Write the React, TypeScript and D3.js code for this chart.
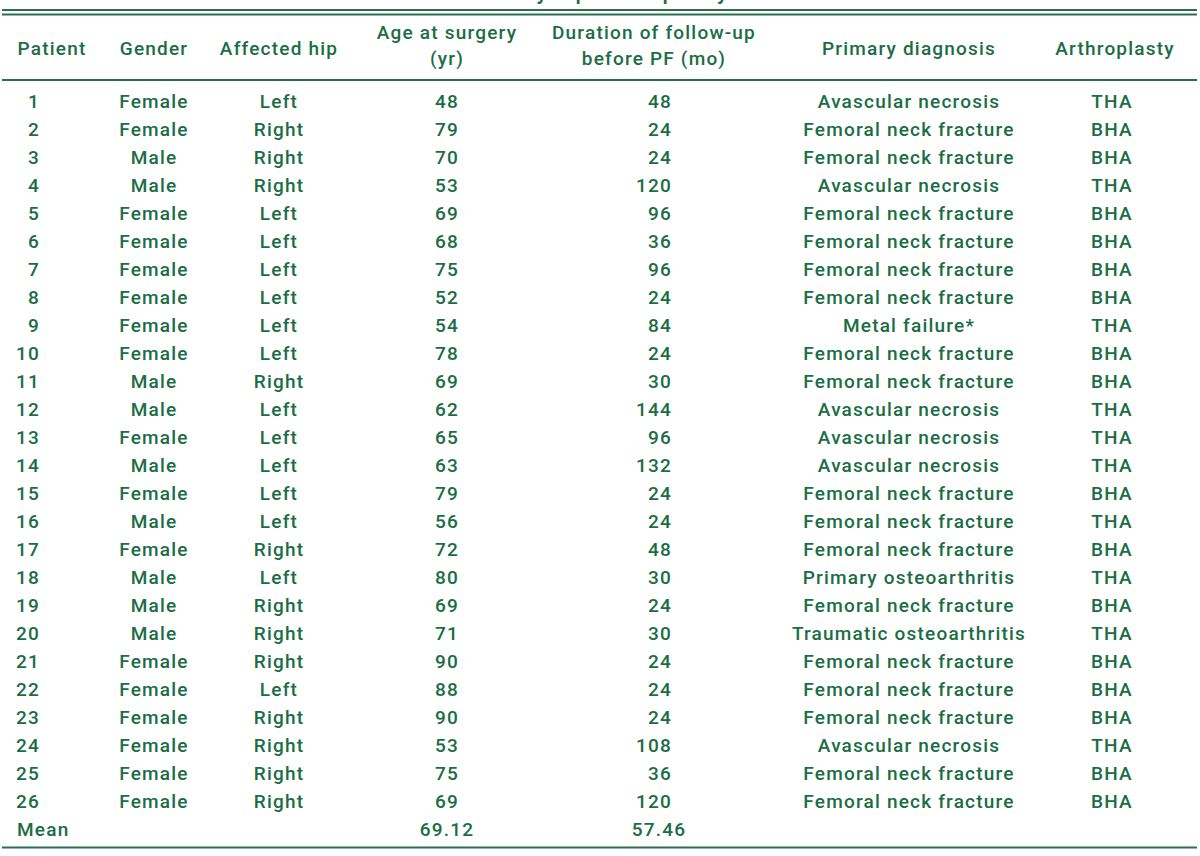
import { scaleBand } from "d3";

const patients = ["1", "2", "3", "4", "5", "6", "7", "8", "9", "10", "11", "12", "13", "14", "15", "16", "17", "18", "19", "20", "21", "22", "23", "24", "25", "26"];
const genders = ["Female", "Female", "Male", "Male", "Female", "Female", "Female", "Female", "Female", "Female", "Male", "Male", "Female", "Male", "Female", "Male", "Female", "Male", "Male", "Male", "Female", "Female", "Female", "Female", "Female", "Female"];
const hips = ["Left", "Right", "Right", "Right", "Left", "Left", "Left", "Left", "Left", "Left", "Right", "Left", "Left", "Left", "Left", "Left", "Right", "Left", "Right", "Right", "Right", "Left", "Right", "Right", "Right", "Right"];
const ages = [48, 79, 70, 53, 69, 68, 75, 52, 54, 78, 69, 62, 65, 63, 79, 56, 72, 80, 69, 71, 90, 88, 90, 53, 75, 69];
const durations = [48, 24, 24, 120, 96, 36, 96, 24, 84, 24, 30, 144, 96, 132, 24, 24, 48, 30, 24, 30, 24, 24, 24, 108, 36, 120];
const diagnoses = [
  "Avascular necrosis", "Femoral neck fracture", "Femoral neck fracture", "Avascular necrosis",
  "Femoral neck fracture", "Femoral neck fracture", "Femoral neck fracture", "Femoral neck fracture",
  "Metal failure*", "Femoral neck fracture", "Femoral neck fracture", "Avascular necrosis",
  "Avascular necrosis", "Avascular necrosis", "Femoral neck fracture", "Femoral neck fracture",
  "Femoral neck fracture", "Primary osteoarthritis", "Femoral neck fracture", "Traumatic osteoarthritis",
  "Femoral neck fracture", "Femoral neck fracture", "Femoral neck fracture", "Avascular necrosis",
  "Femoral neck fracture", "Femoral neck fracture",
];
const arthroplasties = ["THA", "BHA", "BHA", "THA", "BHA", "BHA", "BHA", "BHA", "THA", "BHA", "BHA", "THA", "THA", "THA", "BHA", "THA", "BHA", "THA", "BHA", "THA", "BHA", "BHA", "BHA", "THA", "BHA", "BHA"];
const meanLabel = "Mean";
const meanAge = "69.12";
const meanDuration = "57.46";
const title = "Clinical details of the 26 cases treated by hip arthroplasty";

// header lines per column
const headers = [
  ["Patient"],
  ["Gender"],
  ["Affected hip"],
  ["Age at surgery", "(yr)"],
  ["Duration of follow-up", "before PF (mo)"],
  ["Primary diagnosis"],
  ["Arthroplasty"],
];

const width = 1200;
const height = 856;
const green = "#1b6d45";
const lineColor = "#2b6e4e";
const font = "Roboto, 'Noto Sans', sans-serif";

// column centers (patient column is right aligned)
const colX = [40, 154, 279, 447, 656, 909, 1112];
const headerX = [52, 154, 279, 447, 654, 909, 1115];

const App = () => {
  const rowKeys = [...patients, meanLabel];
  const rowY = scaleBand<string>().domain(rowKeys).range([87, 87 + rowKeys.length * 28]);
  const base = (k: string) => (rowY(k) as number) + rowY.bandwidth() / 2 + 6.5;

  const textProps = {
    fill: green,
    fontFamily: font,
    fontSize: 19,
    fontWeight: 500,
    letterSpacing: 1.2,
  };

  return (
    <div style={{ position: "fixed", left: 0, top: 0 }}>
      <svg width={width} height={height} style={{ display: "block", background: "#fff" }}>
        {/* title, mostly cut off above */}
        <text x={729} y={-1} textAnchor="end" {...textProps} fontSize={22}>
          {title}
        </text>

        {/* top double rule */}
        <line x1={2} x2={1197} y1={10} y2={10} stroke={lineColor} strokeWidth={1.8} />
        <line x1={2} x2={1197} y1={14.5} y2={14.5} stroke={lineColor} strokeWidth={1.8} />

        {/* header */}
        {headers.map((lines, i) => (
          <text key={i} x={headerX[i]} textAnchor="middle" {...textProps}>
            {lines.length === 1 ? (
              <tspan x={headerX[i]} y={55}>{lines[0]}</tspan>
            ) : (
              lines.map((l, j) => (
                <tspan key={j} x={headerX[i]} y={39 + j * 26}>
                  {l}
                </tspan>
              ))
            )}
          </text>
        ))}
        <line x1={2} x2={1197} y1={80} y2={80} stroke={lineColor} strokeWidth={1.8} />

        {/* body rows */}
        {patients.map((p, i) => {
          const y = base(p);
          return (
            <g key={p}>
              <text x={colX[0]} y={y} textAnchor="end" {...textProps}>{p}</text>
              <text x={colX[1]} y={y} textAnchor="middle" {...textProps}>{genders[i]}</text>
              <text x={colX[2]} y={y} textAnchor="middle" {...textProps}>{hips[i]}</text>
              <text x={colX[3]} y={y} textAnchor="middle" {...textProps}>{ages[i]}</text>
              <text x={672} y={y} textAnchor="end" {...textProps}>{durations[i]}</text>
              <text x={colX[5]} y={y} textAnchor="middle" {...textProps}>{diagnoses[i]}</text>
              <text x={colX[6]} y={y} textAnchor="middle" {...textProps}>{arthroplasties[i]}</text>
            </g>
          );
        })}

        {/* mean row */}
        <text x={17} y={base(meanLabel)} {...textProps}>{meanLabel}</text>
        <text x={colX[3]} y={base(meanLabel)} textAnchor="middle" {...textProps}>{meanAge}</text>
        <text x={659} y={base(meanLabel)} textAnchor="middle" {...textProps}>{meanDuration}</text>

        <line x1={2} x2={1197} y1={847.5} y2={847.5} stroke={lineColor} strokeWidth={1.8} />
      </svg>
    </div>
  );
};

export default App;
